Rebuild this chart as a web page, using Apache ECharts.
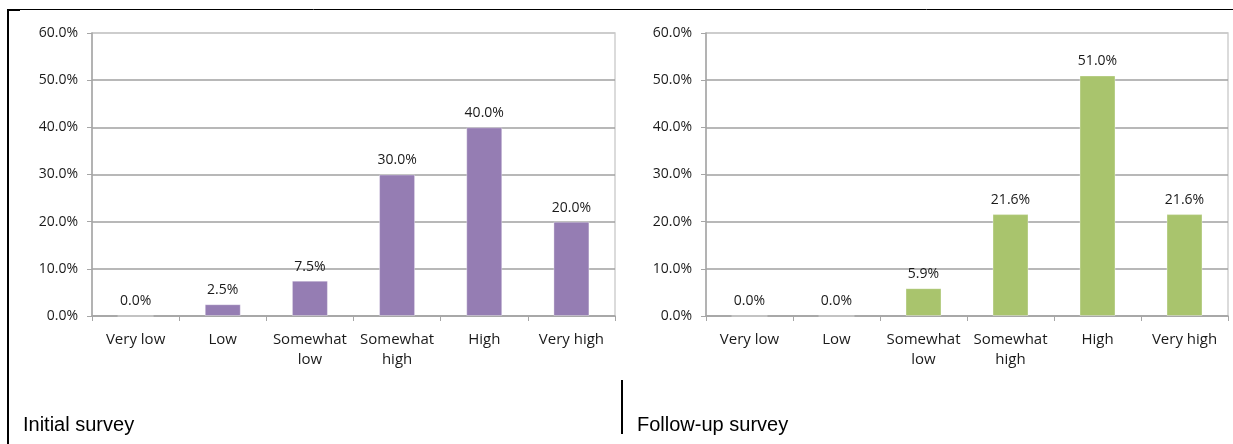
<!DOCTYPE html>
<html>
<head>
<meta charset="utf-8">
<script src="https://cdn.jsdelivr.net/npm/echarts@6/dist/echarts.min.js"></script>
<style>
html,body{margin:0;padding:0;background:#fff;}
#chart{width:1233px;height:444px;}
</style>
</head>
<body>
<div id="chart"></div>
<script>
const categories = ['Very low', 'Low', 'Somewhat\nlow', 'Somewhat\nhigh', 'High', 'Very high'];
const initialValues = [0.0, 2.5, 7.5, 30.0, 40.0, 20.0];
const followUpValues = [0.0, 0.0, 5.9, 21.6, 51.0, 21.6];
const yTicks = { min: 0, max: 60, interval: 10 };
const titles = ['Initial survey', 'Follow-up survey'];

const labelFont = 'Open Sans';
const textColor = '#1a1a1a';

function xAxis(gridIndex) {
  return {
    type: 'category', gridIndex, data: categories, boundaryGap: true,
    axisLine: { lineStyle: { color: '#a6a6a6', width: 1.5 } },
    axisTick: { show: true, alignWithLabel: false, length: 5, lineStyle: { color: '#a6a6a6' } },
    axisLabel: { interval: 0, margin: 14, fontFamily: labelFont, fontSize: 15, lineHeight: 20, color: textColor }
  };
}
function yAxis(gridIndex) {
  return {
    type: 'value', gridIndex, min: yTicks.min, max: yTicks.max, interval: yTicks.interval,
    axisLine: { show: true, lineStyle: { color: '#a6a6a6', width: 1.5 } },
    axisTick: { show: true, length: 5, lineStyle: { color: '#a6a6a6' } },
    splitLine: { show: true, lineStyle: { color: ['#a0a0a0','#a0a0a0','#a0a0a0','#a0a0a0','#a0a0a0','#a0a0a0','#c8c8c8'], width: 1.5 } },
    axisLabel: { margin: 14, fontFamily: labelFont, fontSize: 14, color: textColor, formatter: v => v.toFixed(1) + '%' }
  };
}
function barSeries(idx, data, color) {
  return {
    type: 'bar', xAxisIndex: idx, yAxisIndex: idx, data, barWidth: 36,
    itemStyle: { color, borderColor: 'rgba(255,255,255,0.35)', borderWidth: 1 },
    label: { show: true, position: 'top', distance: 7, fontFamily: labelFont, fontSize: 14, color: textColor,
      formatter: p => p.value.toFixed(1) + '%' },
    animation: false
  };
}

const chart = echarts.init(document.getElementById('chart'), null, { renderer: 'canvas' });
chart.setOption({
  animation: false,
  backgroundColor: '#ffffff',
  grid: [
    { left: 92, top: 33, width: 523, height: 283, show: true, borderColor: '#d0d0d0', borderWidth: 1.5 },
    { left: 706, top: 33, width: 522, height: 283, show: true, borderColor: '#d0d0d0', borderWidth: 1.5 }
  ],
  xAxis: [xAxis(0), xAxis(1)],
  yAxis: [yAxis(0), yAxis(1)],
  series: [
    barSeries(0, initialValues, '#957db3'),
    barSeries(1, followUpValues, '#a9c46d')
  ],
  graphic: [
    { type: 'line', shape: { x1: 7, y1: 9.5, x2: 1233, y2: 9.5 }, style: { stroke: '#000', lineWidth: 1 } },
    { type: 'rect', shape: { x: 7, y: 9, width: 13, height: 2 }, style: { fill: '#000' } },
    { type: 'line', shape: { x1: 8, y1: 9, x2: 8, y2: 444 }, style: { stroke: '#000', lineWidth: 2 } },
    { type: 'line', shape: { x1: 622, y1: 380, x2: 622, y2: 434 }, style: { stroke: '#000', lineWidth: 2 } },
    { type: 'text', left: 23, top: 415, style: { text: titles[0], font: '20px "Liberation Sans", Arial, sans-serif', fill: '#000' } },
    { type: 'text', left: 637, top: 415, style: { text: titles[1], font: '20px "Liberation Sans", Arial, sans-serif', fill: '#000' } }
  ]
});
</script>
</body>
</html>
